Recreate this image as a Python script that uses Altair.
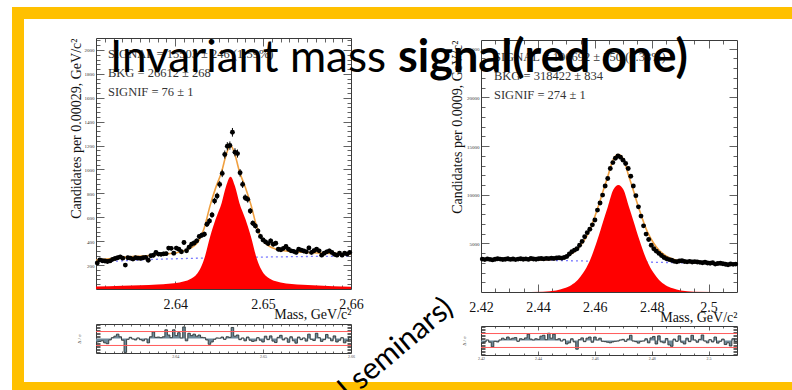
import altair as alt
import pandas as pd

W, H = 792, 390
SERIF = "Liberation Serif"
SANS = "Lato"
YELLOW = "#FFC000"
FRAME = "#3a3a3a"

# ---------------- data: left spectrum ----------------
L_XDOM = [2.631, 2.66]
L_YDOM = [0, 2100]
L_BIN = 0.00029
l_counts = [217, 244, 236, 234, 230, 235, 248, 255, 261, 269,
            258, 200, 262, 258, 250, 262, 258, 256, 262, 265,
            240, 278, 282, 306, 292, 290, 294, 296, 342, 340,
            300, 342, 332, 312, 389, 320, 350, 375, 385, 403,
            439, 450, 458, 542, 569, 620, 736, 778, 875, 967,
            1125, 1194, 1200, 1311, 1144, 1133, 972, 875, 764, 750,
            653, 550, 528, 486, 440, 411, 394, 380, 403, 375,
            383, 333, 328, 340, 356, 333, 319, 315, 306, 333,
            325, 318, 311, 344, 306, 320, 333, 319, 283, 300,
            311, 319, 306, 290, 283, 300, 283, 300, 292, 306]
l_sig_x = [2.631, 2.634, 2.638, 2.6405, 2.6423, 2.6433, 2.644, 2.6446, 2.6453, 2.6458, 2.6463,
           2.6468, 2.6473, 2.648, 2.6486, 2.6493, 2.6503, 2.652, 2.6545, 2.658, 2.66]
l_sig_y = [20, 28, 38, 55, 111, 250, 444, 583, 722, 861, 940,
           861, 722, 583, 444, 250, 111, 55, 36, 24, 18]
l_fit_y = [242, 264, 286, 310, 368, 509, 704, 844, 984, 1123, 1203,
           1125, 986, 848, 710, 517, 379, 324, 308, 298, 293]
l_bkg_x = [2.631, 2.634, 2.637, 2.64, 2.645, 2.65, 2.655, 2.66]
l_bkg_y = [222, 236, 246, 253, 261, 267, 272, 275]
l_res = [-1.2, -1.0, -0.8, -1.5, -1.8, -0.5, 0.3, 0.8, 1.5, 0.6,
         -0.6, -4.8, -0.3, 0.4, -0.2, -0.5, 0.2, -0.4, -0.8, -0.2,
         -1.5, 0.6, 2.3, 0.4, 0.5, 0.3, 0.6, 3.0, 1.2, 0.3,
         3.0, 1.0, 2.0, 0.2, 4.0, -0.8, 1.8, 1.0, 1.5, 0.8,
         1.2, 0.4, 0.3, -0.5, -2.0, -1.2, -0.3, 0.2, 0.1, 0.5,
         -0.3, 0.6, 0.4, 3.8, 0.8, 1.2, -0.4, 0.2, -0.8, 0.5,
         -0.6, -1.0, -0.8, 0.3, -0.6, -1.2, 0.8, -0.4, 0.9, -0.9,
         -1.4, 0.4, 1.1, -0.5, 0.2, -1.3, 0.6, -0.8, -1.6, 0.5,
         -0.4, 0.2, -0.9, 1.5, -0.3, -0.7, 1.8, 0.3, -1.0, -0.4,
         1.4, 0.2, -0.8, 0.9, -1.2, -0.6, 0.3, -1.5, -0.8, 0.4]
l_xlabels = [2.64, 2.65, 2.66]
l_ylabels = [200, 400, 600, 800, 1000, 1200, 1400, 1600, 1800, 2000]
l_info = ["SIGNAL = 15503 \u00b1 246 (1.59%)", "BKG = 26612 \u00b1 268", "SIGNIF = 76 \u00b1  1"]

# ---------------- data: right spectrum ----------------
R_XDOM = [2.42, 2.51]
R_YDOM = [0, 25900]
R_BIN = 0.0009
r_counts = [3380, 3330, 3400, 3350, 3300, 3360, 3420, 3380, 3340, 3370,
            3410, 3350, 3390, 3330, 3380, 3420, 3360, 3400, 3350, 3440,
            3390, 3370, 3420, 3450, 3400, 3460, 3430, 3480, 3450, 3500,
            3520, 3480, 3550, 3650, 3900, 4140, 4300, 4450, 4800, 5200,
            5680, 6100, 6450, 6900, 7400, 8420, 9150, 9960, 10900, 11670,
            12700, 13300, 13750, 13990, 13850, 13550, 13200, 12700, 11900, 10900,
            9900, 8750, 7800, 6800, 5950, 5400, 4800, 4450, 4200, 3970,
            3750, 3550, 3420, 3330, 3260, 3150, 3110, 3180, 3210, 3130,
            3100, 3150, 3080, 3120, 3090, 3050, 3010, 3060, 2980, 2950,
            3000, 2870, 2930, 2960, 2900, 2850, 2800, 2880, 2840, 2870]
r_sig_x = [2.42, 2.433, 2.4418, 2.4464, 2.4492, 2.4517, 2.454, 2.456, 2.4581, 2.4609, 2.463,
           2.4646, 2.4665, 2.4683, 2.4701, 2.472, 2.4736, 2.4757, 2.4785, 2.4806, 2.4826,
           2.4849, 2.4874, 2.4902, 2.4948, 2.51]
r_sig_y = [0, 0, 30, 150, 380, 700, 1230, 2000, 3110, 5340, 7300,
           8760, 10500, 11000, 10500, 8760, 7300, 5340, 3110, 2000, 1230,
           700, 380, 150, 30, 0]
r_fit_y = [3380, 3311, 3294, 3389, 3604, 3911, 4429, 5188, 6287, 8502, 10451,
           11903, 13632, 14123, 13613, 11863, 10395, 8424, 6179, 5058, 4277,
           3735, 3401, 3156, 3012, 2900]
r_bkg_x = [2.42, 2.51]
r_bkg_y = [3380, 2900]
r_res = [-0.8, -0.5, 0.2, -0.6, -2.2, -0.3, -0.5, 0.2, 0.8, 0.4,
         1.2, 0.5, 0.8, 1.0, -0.3, 0.6, 0.4, 0.9, 2.2, 0.5,
         0.2, 0.6, 0.4, 1.5, 1.8, 0.3, 2.5, 0.8, 2.2, 0.3,
         0.6, -0.2, 0.4, -1.2, -0.8, 0.6, -0.5, -3.0, 0.3, 0.9,
         -0.4, 0.8, 1.2, -0.6, 1.2, 0.2, 0.8, -0.3, -0.4, -0.6,
         -0.8, -0.5, -0.3, -0.2, 0.2, 0.4, -0.3, 0.5, 1.8, -0.2,
         -0.4, -0.9, -0.3, -0.2, 0.6, -0.8, 0.9, 1.4, -1.2, 1.6,
         -0.5, -0.8, 0.7, -1.5, -2.0, 0.5, -0.3, 1.6, -0.6, -1.2,
         0.8, -0.4, 1.8, 0.2, -0.6, 0.4, 1.9, -0.2, -0.8, 0.3,
         -0.5, 1.2, -0.9, -0.3, 0.5, -1.4, -0.8, -1.9, 0.6, -0.3]
r_xlabels = [2.42, 2.44, 2.46, 2.48, 2.5]
r_ylabels = [5000, 10000, 15000, 20000, 25000]
r_info = ["SIGNAL = 196692 \u00b1 750 (0.38%)", "BKG = 318422 \u00b1 834", "SIGNIF = 274 \u00b1  1"]

RES_DOM = [-5, 5]
res_lines = [-2.4, 2.4]
res_yticks = [k * 0.5 for k in range(-9, 10)]

l_xticks = [round(2.631 + 0.001 * k, 3) for k in range(1, 29)]
l_yticks = list(range(40, 2100, 40))
r_xticks = [round(2.42 + 0.005 * k, 3) for k in range(1, 18)]
r_yticks = list(range(1000, 25900, 1000))

# ---------------- layout (pixels) ----------------
L_XR, L_YR = [96, 351], [289, 38]
LR_YR = [353, 324]
R_XR, R_YR = [481, 737], [292, 40]
RR_YR = [355, 326]

ONE = pd.DataFrame({"k": [0]})


def scale(dom, rng):
    return alt.Scale(domain=dom, range=rng, nice=False, zero=False)


def xy(xdom, xr, ydom, yr, xf="m", yf="v"):
    return dict(x=alt.X(f"{xf}:Q", scale=scale(xdom, xr), axis=None),
                y=alt.Y(f"{yf}:Q", scale=scale(ydom, yr), axis=None))


def axis_layer(xdom, xr, ydom, yr, xaxis, yaxis):
    df = pd.DataFrame({"m": xdom, "v": ydom})
    return alt.Chart(df).mark_point(opacity=0).encode(
        x=alt.X("m:Q", scale=scale(xdom, xr), axis=xaxis),
        y=alt.Y("v:Q", scale=scale(ydom, yr), axis=yaxis))


def frame_layers(xdom, xr, ydom, yr, xticks, yticks, xtest, ytest, small, big):
    common = dict(labels=False, grid=False, title=None, domain=True, domainColor=FRAME,
                  domainWidth=1, ticks=True, tickColor=FRAME, tickWidth=0.8)
    tsx = {"condition": {"test": xtest, "value": big}, "value": small}
    tsy = {"condition": {"test": ytest, "value": big}, "value": small}
    a1 = axis_layer(xdom, xr, ydom, yr,
                    alt.Axis(orient="top", offset=-yr[0], values=xticks, tickSize=tsx, **common),
                    alt.Axis(orient="right", offset=xr[0] - W, values=yticks, tickSize=tsy, **common))
    a2 = axis_layer(xdom, xr, ydom, yr,
                    alt.Axis(orient="bottom", offset=yr[1] - H, values=xticks, tickSize=tsx, **common),
                    alt.Axis(orient="left", offset=-xr[1], values=yticks, tickSize=tsy, **common))
    return [a1, a2]


def text(txt, x, y, size, font, weight="normal", color="#000", align="left",
         baseline="alphabetic", angle=None):
    kw = dict(text=txt, font=font, fontSize=size, fontWeight=weight, color=color,
              align=align, baseline=baseline)
    if angle is not None:
        kw["angle"] = angle
    return alt.Chart(ONE).mark_text(**kw).encode(x=alt.value(x), y=alt.value(y))


def rect(x, x2, y, y2, color):
    return alt.Chart(ONE).mark_rect(color=color).encode(
        x=alt.value(x), x2=alt.value(x2), y=alt.value(y), y2=alt.value(y2))


def main_panel(xdom, xr, ydom, yr, counts, binw, sx, sy, fy, bx, by, errors,
               xlabels, xfmt, ylabels, ytitle, ytitle_x, xticks, yticks, xtest, ytest):
    pts = pd.DataFrame({"m": [xdom[0] + (i + 0.5) * binw for i in range(len(counts))],
                        "v": counts})
    layers = []
    layers += frame_layers(xdom, xr, ydom, yr, xticks, yticks, xtest, ytest, 4, 8)
    layers.append(axis_layer(
        xdom, xr, ydom, yr,
        alt.Axis(orient="bottom", offset=yr[0] - H, values=xlabels, format=xfmt, ticks=False,
                 tickSize=0, domain=False, grid=False, labelFont=SERIF, labelFontSize=14,
                 labelColor="#111", labelPadding=8, labelFlush=False, labelOverlap=False,
                 labelBound=False, title="Mass, GeV/c\u00b2", titleFont=SERIF, titleFontSize=14,
                 titleFontWeight="normal", titleColor="#111", titleAlign="right",
                 titleBaseline="alphabetic", titleX=xr[1], titleY=29),
        alt.Axis(orient="left", offset=-xr[0], values=ylabels, format="d", ticks=False,
                 tickSize=0, domain=False, grid=False, labelFont=SERIF, labelFontSize=5,
                 labelColor="#333", labelPadding=2, labelOverlap=False,
                 title=ytitle, titleFont=SERIF, titleFontSize=14, titleFontWeight="normal",
                 titleColor="#111", titleAngle=270, titleAlign="right", titleBaseline="middle",
                 titleX=ytitle_x, titleY=yr[1])))
    layers.append(alt.Chart(pd.DataFrame({"m": bx, "v": by})).mark_line(
        color="#7a7aff", strokeDash=[2, 3], strokeWidth=1.3, interpolate="monotone").encode(
        **xy(xdom, xr, ydom, yr)))
    layers.append(alt.Chart(pd.DataFrame({"m": sx, "v": sy})).mark_area(
        color="#ff0000", opacity=1, interpolate="monotone").encode(
        **xy(xdom, xr, ydom, yr), y2=alt.datum(0)))
    layers.append(alt.Chart(pd.DataFrame({"m": sx, "v": fy})).mark_line(
        color="#f0a040", strokeWidth=1.6, interpolate="monotone").encode(
        **xy(xdom, xr, ydom, yr)))
    if errors:
        layers.append(alt.Chart(pts).transform_calculate(
            lo="datum.v - sqrt(datum.v)", hi="datum.v + sqrt(datum.v)").mark_rule(
            color="black", strokeWidth=1).encode(
            x=alt.X("m:Q", scale=scale(xdom, xr), axis=None),
            y=alt.Y("lo:Q", scale=scale(ydom, yr), axis=None), y2="hi:Q"))
    layers.append(alt.Chart(pts).mark_circle(size=24, color="black", opacity=1).encode(
        **xy(xdom, xr, ydom, yr)))
    return layers


def resid_panel(xdom, xr, yr, res, binw, xlabels, xfmt, xticks, xtest):
    edges = [xdom[0] + i * binw for i in range(len(res))] + [xdom[1]]
    df = pd.DataFrame({"m": edges, "v": res + [res[-1]]})
    layers = []
    common = dict(labels=False, grid=False, title=None, domain=True, domainColor=FRAME,
                  domainWidth=1, ticks=True, tickColor=FRAME, tickWidth=0.8)
    tsx = {"condition": {"test": xtest, "value": 4}, "value": 2}
    layers.append(axis_layer(
        xdom, xr, RES_DOM, yr,
        alt.Axis(orient="top", offset=-yr[0], values=xticks, tickSize=tsx, **common),
        alt.Axis(orient="right", offset=xr[0] - W, values=res_yticks, tickSize=4, **common)))
    layers.append(axis_layer(
        xdom, xr, RES_DOM, yr,
        alt.Axis(orient="bottom", offset=yr[1] - H, values=xticks, tickSize=tsx, **common),
        alt.Axis(orient="left", offset=-xr[1], values=res_yticks, tickSize=4, **common)))
    layers.append(axis_layer(
        xdom, xr, RES_DOM, yr,
        alt.Axis(orient="bottom", offset=yr[0] - H, values=xlabels, format=xfmt, ticks=False,
                 tickSize=0, domain=False, grid=False, labelFont=SERIF, labelFontSize=4,
                 labelColor="#444", labelPadding=1, labelFlush=False, labelOverlap=False,
                 title=None),
        alt.Axis(orient="left", offset=-xr[0], labels=False, ticks=False, tickSize=0,
                 domain=False, grid=False, title="\u0394 / \u03c3", titleFont=SERIF,
                 titleFontSize=5, titleFontWeight="normal", titleColor="#333", titleAngle=270,
                 titleAlign="center", titleBaseline="middle", titleX=-18,
                 titleY=(yr[0] + yr[1]) / 2)))
    layers.append(alt.Chart(df).mark_area(
        interpolate="step-after", color="#6f8a99", opacity=1,
        line={"color": "#2d3436", "strokeWidth": 0.9}).encode(
        **xy(xdom, xr, RES_DOM, yr), y2=alt.datum(0)))
    rl = pd.DataFrame({"m0": [xdom[0]] * 2, "m1": [xdom[1]] * 2, "v": res_lines})
    layers.append(alt.Chart(rl).mark_rule(color="#ff5a5a", strokeWidth=1).encode(
        x=alt.X("m0:Q", scale=scale(xdom, xr), axis=None), x2="m1:Q",
        y=alt.Y("v:Q", scale=scale(RES_DOM, yr), axis=None)))
    return layers


layers = []
# slide frame
layers.append(rect(12, W, 7, 19, YELLOW))
layers.append(rect(12, 24, 7, H, YELLOW))
layers.append(rect(12, W, 382, H, YELLOW))

layers += main_panel(L_XDOM, L_XR, L_YDOM, L_YR, l_counts, L_BIN, l_sig_x, l_sig_y, l_fit_y,
                     l_bkg_x, l_bkg_y, True, l_xlabels, ".2f", l_ylabels,
                     "Candidates per 0.00029, GeV/c\u00b2", -20, l_xticks, l_yticks,
                     "abs(datum.value*100 - round(datum.value*100)) < 0.01",
                     "datum.value % 200 == 0")
layers += main_panel(R_XDOM, R_XR, R_YDOM, R_YR, r_counts, R_BIN, r_sig_x, r_sig_y, r_fit_y,
                     r_bkg_x, r_bkg_y, False, r_xlabels, "~g", r_ylabels,
                     "Candidates per 0.0009, GeV/c\u00b2", -24, r_xticks, r_yticks,
                     "abs(datum.value*50 - round(datum.value*50)) < 0.01",
                     "datum.value % 5000 == 0")
layers += resid_panel(L_XDOM, L_XR, LR_YR, l_res, L_BIN, l_xlabels, ".2f", l_xticks,
                      "abs(datum.value*100 - round(datum.value*100)) < 0.01")
layers += resid_panel(R_XDOM, R_XR, RR_YR, r_res, R_BIN, r_xlabels, "~g", r_xticks,
                      "abs(datum.value*50 - round(datum.value*50)) < 0.01")

for i, t in enumerate(l_info):
    layers.append(text(t, 108, 54 + 19 * i, 12.5, SERIF, color="#333", baseline="middle"))
for i, t in enumerate(r_info):
    layers.append(text(t, 494, 57 + 19 * i, 12.5, SERIF, color="#333", baseline="middle"))

layers.append(text("Invariant mass", 110, 72, 44, SANS))
layers.append(text("signal(red one)", 398, 72, 45, SANS, weight="bold"))
layers.append(text("l seminars)", 455, 311, 30, SANS, align="right", angle=320))

chart = alt.layer(*layers).resolve_scale(x="independent", y="independent").properties(
    width=W, height=H, padding=0, autosize=alt.AutoSizeParams(type="none"),
    background="white").configure_view(stroke=None)

chart.save("out.html", embed_options={"renderer": "svg", "actions": False})
